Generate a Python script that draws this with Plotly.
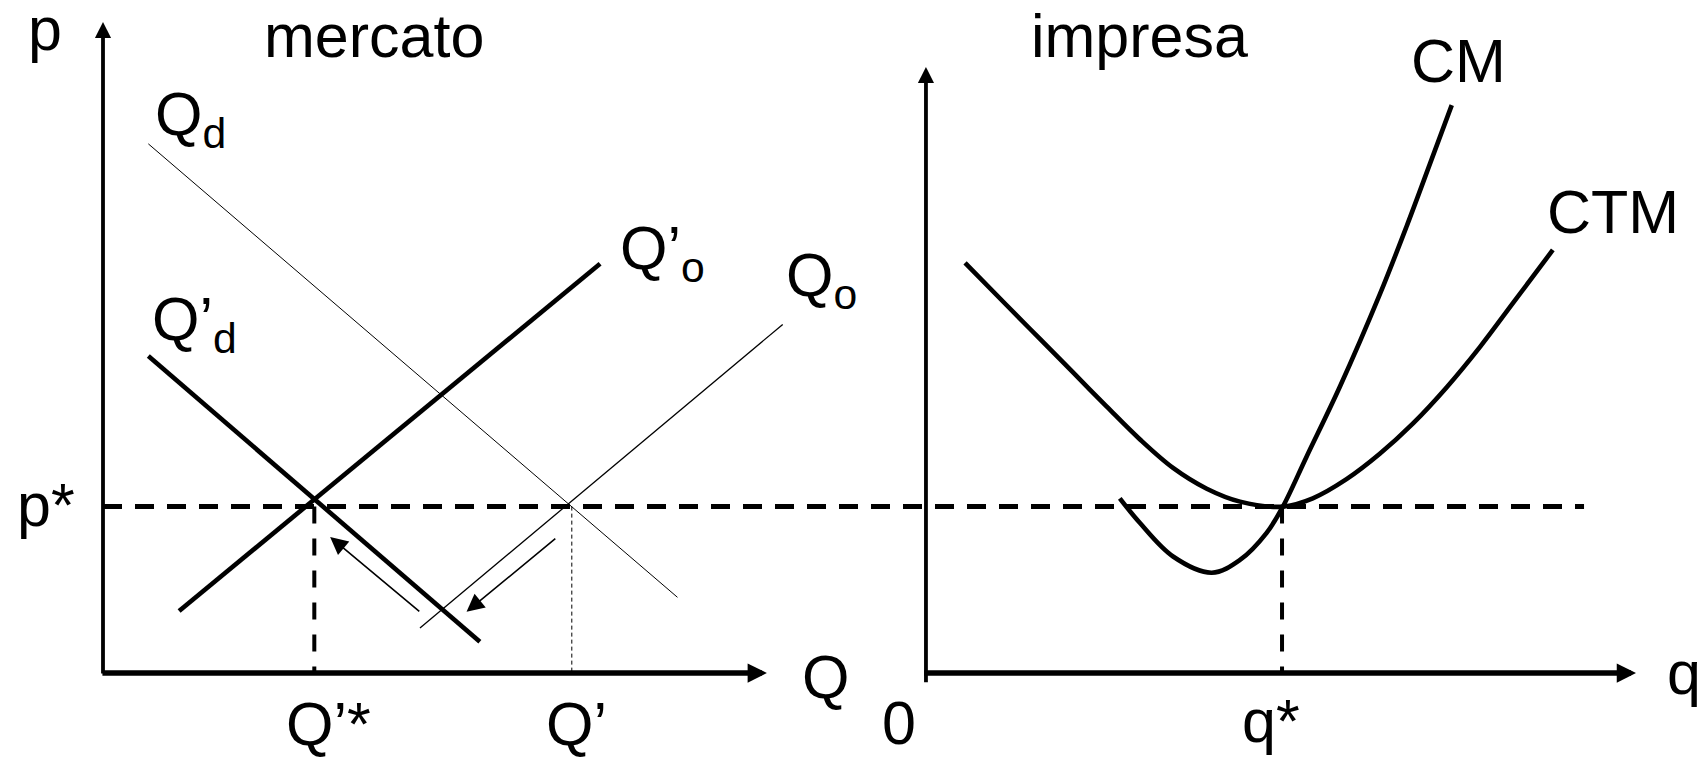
import plotly.graph_objects as go

# ---------------- data (economic units) ----------------
p_star = 4.0            # equilibrium price
Q_star_new = 5.08       # Q'*
Q_old = 11.27           # Q'
q_star = 8.56           # firm optimum

# market panel lines (Q, p)
Qd_Q = [1.09, 13.81];  Qd_p = [12.72, 1.82]    # Qd (thin)
Qd2_Q = [1.09, 9.06];  Qd2_p = [7.62, 0.75]    # Q'd (thick)
Qo2_Q = [1.83, 11.95]; Qo2_p = [1.49, 9.84]    # Q'o (thick)
Qo_Q = [7.62, 16.34];  Qo_p = [1.08, 8.38]     # Qo (thin)

# shift arrows: tail -> head
arrow1_Q = [7.64, 5.46]; arrow1_p = [1.45, 3.27]
arrow2_Q = [10.91, 8.74]; arrow2_p = [3.26, 1.47]

# firm panel curves (q, p)
CTM_q = [0.94, 1.94, 2.74, 3.53, 4.34, 5.14, 5.94, 6.75, 7.55, 8.58,
         9.30, 10.11, 10.91, 11.71, 12.52, 13.32, 14.11, 15.07]
CTM_p = [9.86, 8.84, 8.03, 7.23, 6.41, 5.62, 4.93, 4.43, 4.12, 4.00,
         4.20, 4.66, 5.27, 6.00, 6.87, 7.84, 8.89, 10.17]
CM_q = [4.66, 5.14, 5.94, 6.87, 7.55, 8.19, 8.58, 9.15, 9.95, 10.91,
        11.56, 12.12, 12.64]
CM_p = [4.20, 3.61, 2.80, 2.41, 2.72, 3.37, 4.00, 5.20, 6.88, 9.10,
        10.75, 12.25, 13.65]

# axes extents
mkt_Q_axis_end = 15.96
mkt_p_axis_end = 15.65
firm_q_axis = [-0.08, 17.07]
firm_p_axis = [-0.26, 14.57]
pstar_line_q_end = 15.82   # firm units

# horizontal offset at which the firm panel's origin sits (market units)
FIRM_ORIGIN = 19.784

# labels
titles = ["mercato", "impresa"]
mkt_labels = ["p", "p*", "Q<sub>d</sub>", "Q\u2019<sub>d</sub>", "Q\u2019<sub>o</sub>",
              "Q<sub>o</sub>", "Q", "Q\u2019*", "Q\u2019"]
firm_labels = ["0", "q*", "q", "CM", "CTM"]

# ---------------- layout positions ----------------
mkt_label_pos = [(-1.851, 15.49), (-2.115, 4.031), (1.202, 13.32), (1.13, 8.41),
                 (12.38, 10.12), (16.37, 9.45), (16.755, -0.087), (4.351, -1.22),
                 (10.601, -1.22)]
firm_label_pos = [(-0.649, -1.19), (7.548, -1.144), (17.764, 0.01),
                  (11.611, 14.72), (14.88, 11.08)]
title_pos = [(6.514, 15.31), (5.132, 15.31)]

FONT = "Liberation Sans, Arial, sans-serif"
FS = 61
BLACK = "#000000"


def fx(qs):
    return [q + FIRM_ORIGIN for q in qs]


fig = go.Figure()


def line(x, y, width, dash=None, shape="linear"):
    fig.add_trace(go.Scatter(
        x=x, y=y, mode="lines", showlegend=False, hoverinfo="skip",
        line=dict(color=BLACK, width=width, dash=dash, shape=shape)))


# market lines
line(Qd_Q, Qd_p, 1.0)
line(Qo_Q, Qo_p, 1.3)
line(Qd2_Q, Qd2_p, 4.6)
line(Qo2_Q, Qo2_p, 4.6)

# p* dashed across both panels
line([0, FIRM_ORIGIN + pstar_line_q_end], [p_star, p_star], 5.0, dash="19px,13px")
# vertical guides
line([Q_star_new, Q_star_new], [p_star, 0], 4.0, dash="17px,15px")
line([Q_old, Q_old], [p_star, 0], 1.0, dash="4px,3px")
line(fx([q_star, q_star]), [p_star, 0], 4.0, dash="17px,15px")

# firm curves
line(fx(CTM_q), CTM_p, 4.6, shape="spline")
line(fx(CM_q), CM_p, 4.6, shape="spline")

annotations = []


def arrow(x0, y0, x1, y1, width, size, head=2):
    annotations.append(dict(
        x=x1, y=y1, ax=x0, ay=y0, xref="x", yref="y", axref="x", ayref="y",
        text="", showarrow=True, arrowhead=head, arrowsize=size,
        arrowwidth=width, arrowcolor=BLACK, standoff=0, startstandoff=0))


# axes
arrow(0, -0.05, 0, mkt_p_axis_end, 3.8, 0.85)
arrow(-0.05, 0, mkt_Q_axis_end, 0, 5.5, 0.7)
arrow(FIRM_ORIGIN, firm_p_axis[0], FIRM_ORIGIN, firm_p_axis[1], 3.8, 0.85)
arrow(FIRM_ORIGIN + firm_q_axis[0], 0, FIRM_ORIGIN + firm_q_axis[1], 0, 5.5, 0.7)

# shift arrows
arrow(arrow1_Q[0], arrow1_p[0], arrow1_Q[1], arrow1_p[1], 1.6, 2.2)
arrow(arrow2_Q[0], arrow2_p[0], arrow2_Q[1], arrow2_p[1], 1.6, 2.2)


def label(text, x, y, anchor="left"):
    annotations.append(dict(
        x=x, y=y, xref="x", yref="y", text=text, showarrow=False,
        xanchor=anchor, yanchor="middle",
        font=dict(family=FONT, size=FS, color=BLACK)))


label(titles[0], title_pos[0][0], title_pos[0][1], "center")
label(titles[1], title_pos[1][0] + FIRM_ORIGIN, title_pos[1][1], "center")
for t, (x, y) in zip(mkt_labels, mkt_label_pos):
    label(t, x, y)
for t, (x, y) in zip(firm_labels, firm_label_pos):
    label(t, x + FIRM_ORIGIN, y, "center" if t == "0" else "left")

fig.update_layout(
    width=1702, height=758,
    margin=dict(l=0, r=0, t=0, b=0, pad=0),
    paper_bgcolor="white", plot_bgcolor="white",
    xaxis=dict(range=[-2.476, 38.44], visible=False, fixedrange=True),
    yaxis=dict(range=[-2.043, 16.178], visible=False, fixedrange=True),
    annotations=annotations,
    showlegend=False,
)

fig.write_html("out.html", config={"displayModeBar": False},
               post_script="document.body.style.margin='0';")
